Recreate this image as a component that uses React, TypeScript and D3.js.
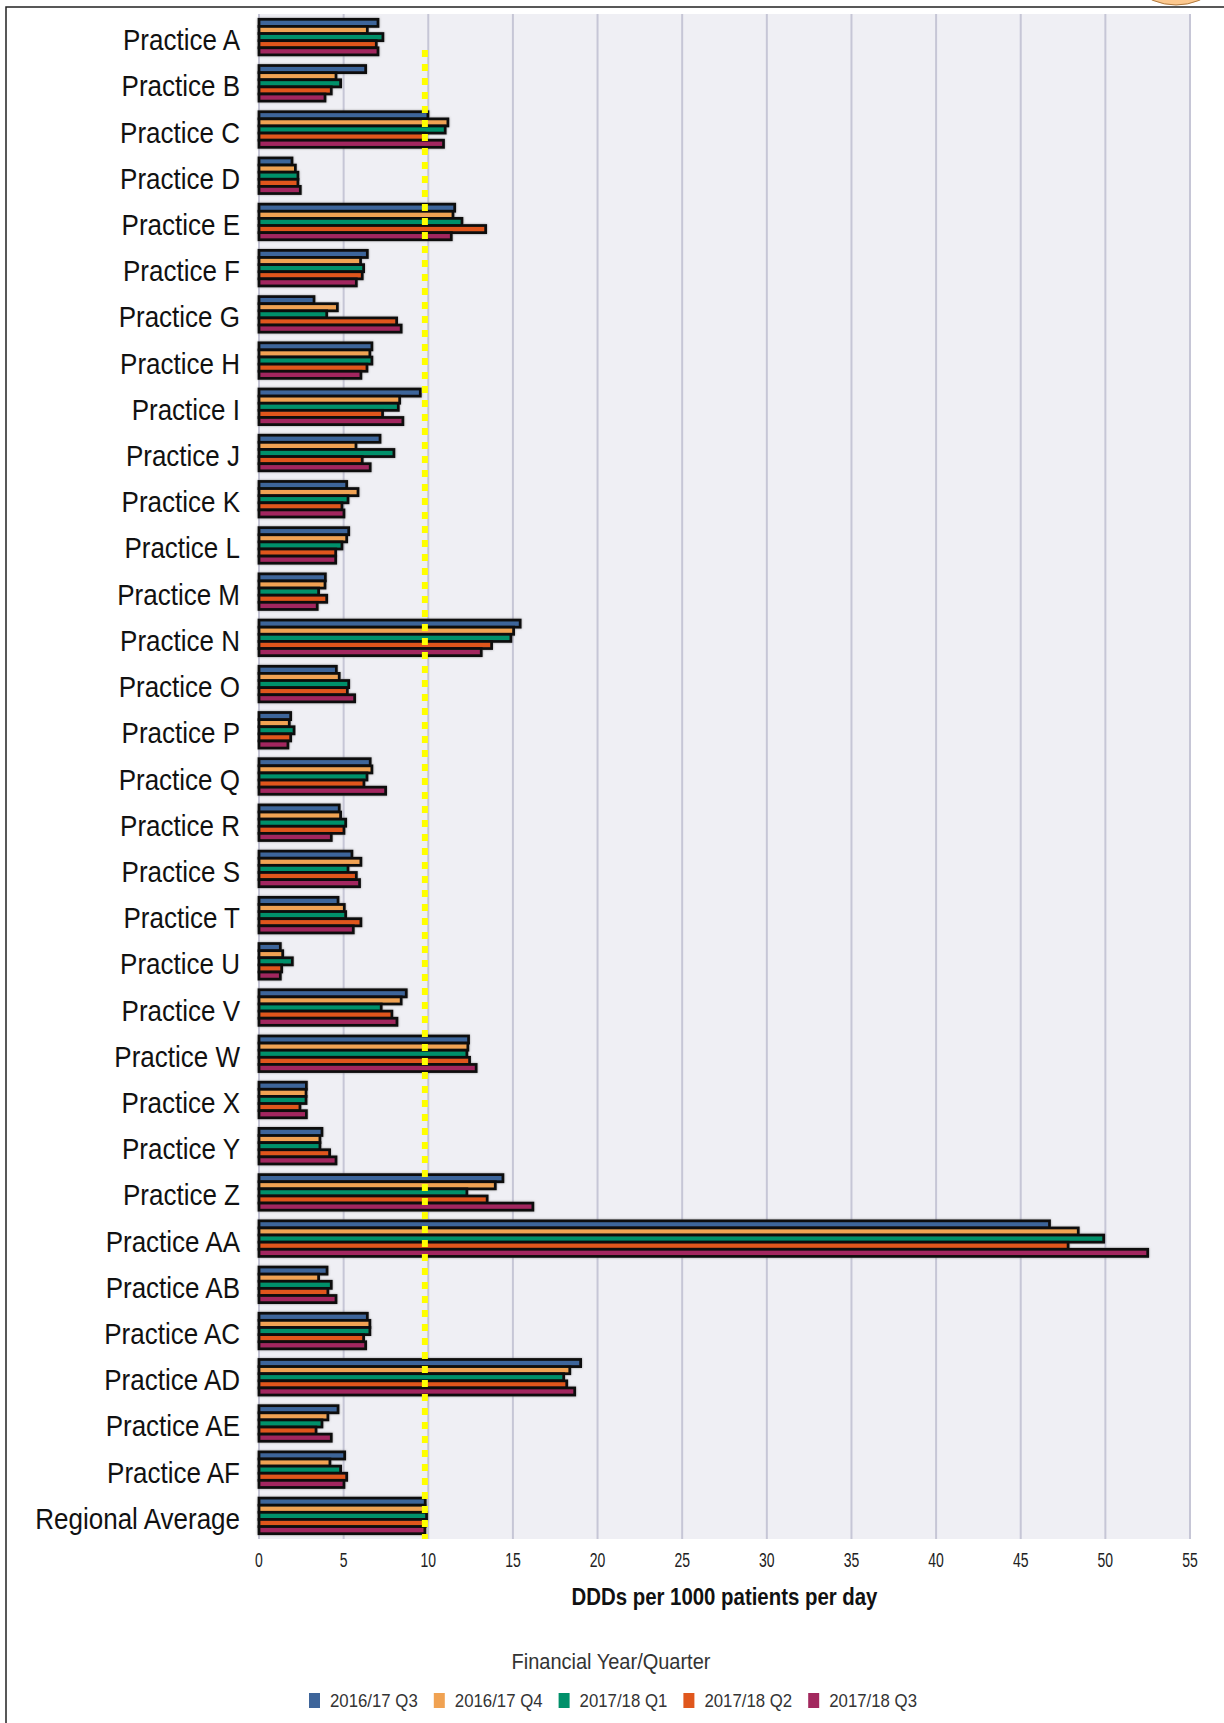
import React from "react";
import * as d3 from "d3";

const categories = [
  "Practice A", "Practice B", "Practice C", "Practice D", "Practice E", "Practice F",
  "Practice G", "Practice H", "Practice I", "Practice J", "Practice K", "Practice L",
  "Practice M", "Practice N", "Practice O", "Practice P", "Practice Q", "Practice R",
  "Practice S", "Practice T", "Practice U", "Practice V", "Practice W", "Practice X",
  "Practice Y", "Practice Z", "Practice AA", "Practice AB", "Practice AC", "Practice AD",
  "Practice AE", "Practice AF", "Regional Average",
];

const seriesNames = ["2016/17 Q3", "2016/17 Q4", "2017/18 Q1", "2017/18 Q2", "2017/18 Q3"];
const seriesColors = ["#3e659a", "#f0a252", "#00906a", "#e0571d", "#a2285e"];

const fy1617q3 = [7.03, 6.3, 9.98, 1.95, 11.56, 6.4, 3.25, 6.67, 9.53, 7.15, 5.18, 5.3, 3.92, 15.43, 4.57, 1.87, 6.57, 4.74, 5.49, 4.67, 1.26, 8.7, 12.38, 2.8, 3.72, 14.41, 46.7, 4.02, 6.4, 19.0, 4.67, 5.06, 9.82];
const fy1617q4 = [6.4, 4.55, 11.16, 2.15, 11.46, 6.0, 4.63, 6.55, 8.31, 5.73, 5.85, 5.18, 3.9, 15.04, 4.74, 1.79, 6.67, 4.82, 6.02, 5.04, 1.4, 8.4, 12.34, 2.78, 3.6, 13.96, 48.4, 3.52, 6.55, 18.36, 4.07, 4.19, 9.8];
const fy1718q1 = [7.32, 4.82, 11.0, 2.3, 11.99, 6.18, 4.0, 6.67, 8.23, 7.97, 5.26, 4.9, 3.52, 14.88, 5.3, 2.07, 6.38, 5.12, 5.26, 5.12, 1.97, 7.22, 12.28, 2.78, 3.6, 12.28, 49.9, 4.27, 6.55, 18.0, 3.72, 4.82, 9.9];
const fy1718q2 = [6.93, 4.27, 9.78, 2.3, 13.39, 6.1, 8.13, 6.38, 7.3, 6.1, 4.9, 4.53, 4.0, 13.74, 5.22, 1.87, 6.2, 5.02, 5.75, 6.02, 1.34, 7.85, 12.44, 2.42, 4.17, 13.48, 47.8, 4.07, 6.18, 18.18, 3.37, 5.18, 9.82];
const fy1718q3 = [7.03, 3.9, 10.9, 2.44, 11.36, 5.75, 8.4, 6.02, 8.5, 6.57, 5.02, 4.53, 3.44, 13.13, 5.65, 1.71, 7.48, 4.27, 5.94, 5.57, 1.26, 8.15, 12.83, 2.8, 4.55, 16.18, 52.5, 4.55, 6.3, 18.65, 4.27, 5.02, 9.8];

const seriesValues = [fy1617q3, fy1617q4, fy1718q1, fy1718q2, fy1718q3];
const xTicks = [0, 5, 10, 15, 20, 25, 30, 35, 40, 45, 50, 55];
const regionalAverage = 9.8;
const xTitle = "DDDs per 1000 patients per day";
const legendTitle = "Financial Year/Quarter";

const W = 1224;
const H = 1723;
const plot = { left: 259, right: 1190, top: 14, bottom: 1539 };
const FONT = "'Liberation Sans', Arial, sans-serif";

function SText({ x, y, sx = 1, sy = 1, children, ...rest }: any) {
  return (
    <text transform={`translate(${x},${y}) scale(${sx},${sy})`} {...rest}>
      {children}
    </text>
  );
}

export default function App() {
  const x = d3.scaleLinear().domain([0, 55]).range([plot.left, plot.right]);
  const y = d3
    .scaleBand<string>()
    .domain(categories)
    .range([plot.top, plot.bottom])
    .paddingInner(0.23)
    .paddingOuter(0.115);
  const ySub = d3
    .scaleBand<number>()
    .domain(d3.range(seriesNames.length))
    .range([0, y.bandwidth()])
    .padding(0);

  const legendX = d3.scaleLinear().domain([0, 1]).range([309, 309 + 124.8]);

  return (
    <svg
      width={W}
      height={H}
      style={{ position: "absolute", left: 0, top: 0, display: "block" }}
      fontFamily={FONT}
    >
      <defs>
        <filter id="glow" x="-5%" y="-30%" width="110%" height="160%">
          <feDropShadow dx="0" dy="0" stdDeviation="0.9" floodColor="#555" floodOpacity="0.55" />
        </filter>
      </defs>
      <rect x={0} y={0} width={W} height={H} fill="#ffffff" />
      <circle cx={1176} cy={-55} r={60} fill="#fcc88e" stroke="#b07a40" strokeWidth={1} />
      <rect x={6} y={7} width={W + 20} height={H + 20} fill="none" stroke="#222" strokeWidth={1.5} />

      {/* plot background */}
      <rect
        x={plot.left}
        y={plot.top}
        width={plot.right - plot.left}
        height={plot.bottom - plot.top}
        fill="#efeff4"
      />
      {xTicks.map((t) => (
        <line
          key={"g" + t}
          x1={x(t)}
          x2={x(t)}
          y1={plot.top}
          y2={plot.bottom}
          stroke="#c6c6d6"
          strokeWidth={2}
        />
      ))}

      {/* bars */}
      {categories.map((c, i) => (
        <g key={c} transform={`translate(0,${y(c)})`} filter="url(#glow)">
          {seriesValues.map((vals, s) => (
            <rect
              key={s}
              x={x(0)}
              y={ySub(s)}
              width={x(vals[i]) - x(0)}
              height={ySub.bandwidth()}
              fill={seriesColors[s]}
              stroke="#111"
              strokeWidth={2.8}
            />
          ))}
        </g>
      ))}

      {/* regional average line */}
      <line
        x1={x(regionalAverage)}
        x2={x(regionalAverage)}
        y1={50}
        y2={plot.bottom}
        stroke="#ffff00"
        strokeWidth={6}
        strokeDasharray="7 7"
      />

      {/* category labels */}
      {categories.map((c) => (
        <SText
          key={"l" + c}
          x={240}
          y={(y(c) as number) + y.bandwidth() / 2 + 13}
          sy={1.12}
          fontSize={26}
          textAnchor="end"
          fill="#111"
        >
          {c}
        </SText>
      ))}

      {/* x tick labels */}
      {xTicks.map((t) => (
        <SText
          key={"t" + t}
          x={x(t)}
          y={1567}
          sy={1.5}
          fontSize={14}
          textAnchor="middle"
          fill="#222"
        >
          {t}
        </SText>
      ))}

      <SText
        x={(plot.left + plot.right) / 2}
        y={1605}
        sy={1.2}
        fontSize={20.4}
        fontWeight="bold"
        textAnchor="middle"
        fill="#111"
      >
        {xTitle}
      </SText>

      <SText x={611} y={1669} sy={1.12} fontSize={20} textAnchor="middle" fill="#333">
        {legendTitle}
      </SText>

      {seriesNames.map((n, s) => (
        <g key={"lg" + n}>
          <rect x={legendX(s)} y={1693} width={11} height={15} fill={seriesColors[s]} />
          <SText x={legendX(s) + 21} y={1707} sy={1.12} fontSize={16.8} fill="#333">
            {n}
          </SText>
        </g>
      ))}
    </svg>
  );
}
